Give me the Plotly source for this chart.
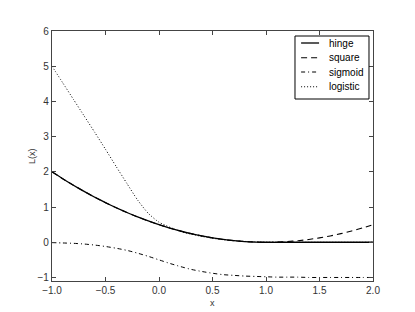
import plotly.graph_objects as go

x_vals = [-1.0, -0.9, -0.8, -0.7, -0.6, -0.5, -0.4, -0.3, -0.2, -0.1, 0.0,
          0.1, 0.2, 0.3, 0.4, 0.5, 0.6, 0.7, 0.8, 0.9, 1.0,
          1.1, 1.2, 1.3, 1.4, 1.5, 1.6, 1.7, 1.8, 1.9, 2.0]

hinge = [2.0, 1.805, 1.62, 1.445, 1.28, 1.125, 0.98, 0.845, 0.72, 0.605, 0.5,
         0.405, 0.32, 0.245, 0.18, 0.125, 0.08, 0.045, 0.02, 0.005, 0.0,
         0.0, 0.0, 0.0, 0.0, 0.0, 0.0, 0.0, 0.0, 0.0, 0.0]

square = [2.0, 1.805, 1.62, 1.445, 1.28, 1.125, 0.98, 0.845, 0.72, 0.605, 0.5,
          0.405, 0.32, 0.245, 0.18, 0.125, 0.08, 0.045, 0.02, 0.005, 0.0,
          0.005, 0.02, 0.045, 0.08, 0.125, 0.18, 0.245, 0.32, 0.405, 0.5]

sigmoid = [-0.01, -0.02, -0.03, -0.05, -0.08, -0.12, -0.17, -0.23, -0.31, -0.40, -0.5,
           -0.60, -0.69, -0.77, -0.83, -0.88, -0.92, -0.94, -0.96, -0.97, -0.98,
           -0.99, -0.99, -0.99, -1.0, -1.0, -1.0, -1.0, -1.0, -1.0, -1.0]

logistic = [5.0, 4.53, 4.06, 3.59, 3.12, 2.64, 2.15, 1.67, 1.20, 0.82, 0.57,
            0.43, 0.31, 0.23, 0.165, 0.112, 0.073, 0.044, 0.024, 0.012, 0.006,
            0.003, 0.001, 0.0, 0.0, 0.0, 0.0, 0.0, 0.0, 0.0, 0.0]

series_names = ["hinge", "square", "sigmoid", "logistic"]

x_ticks = [-1.0, -0.5, 0.0, 0.5, 1.0, 1.5, 2.0]
x_tick_labels = ["\u22121.0", "\u22120.5", "0.0", "0.5", "1.0", "1.5", "2.0"]
y_ticks = [-1, 0, 1, 2, 3, 4, 5, 6]
y_tick_labels = ["\u22121", "0", "1", "2", "3", "4", "5", "6"]

styles = [
    ("solid", 1.3),
    ("6px,4px", 1.1),
    ("4px,3px,1px,3px", 1.0),
    ("1px,2px", 1.0),
]

FONT = "Liberation Sans, Arial, sans-serif"

fig = go.Figure()
for name, ys, (dash, w) in zip(series_names, [hinge, square, sigmoid, logistic], styles):
    fig.add_trace(go.Scatter(
        x=x_vals, y=ys, name=name, mode="lines", showlegend=False,
        line=dict(color="black", width=w, dash=dash, shape="spline", smoothing=0.6),
    ))

axis_common = dict(
    showgrid=False, zeroline=False, automargin=False,
    showline=True, linecolor="#444", linewidth=1.2, mirror="ticks",
    ticks="inside", ticklen=4, tickcolor="#444", tickwidth=1,
    tickfont=dict(family=FONT, size=10, color="#333"),
)

# compact legend (box, swatches, labels) in paper coordinates
shapes = [dict(type="rect", xref="paper", yref="paper",
               x0=0.757, x1=0.9875, y0=0.728, y1=0.98,
               line=dict(color="black", width=1), fillcolor="white", layer="above")]
annotations = []
row_y = [0.952, 0.893, 0.836, 0.777]
for name, (dash, w), ry in zip(series_names, styles, row_y):
    shapes.append(dict(type="line", xref="paper", yref="paper",
                       x0=0.776, x1=0.832, y0=ry, y1=ry, layer="above",
                       line=dict(color="black", width=w, dash=dash)))
    annotations.append(dict(text=name, xref="paper", yref="paper", x=0.858, y=ry,
                            xanchor="left", yanchor="middle", showarrow=False,
                            font=dict(family=FONT, size=10, color="black")))

annotations += [
    dict(text="x", xref="paper", yref="paper", x=0.5, y=-0.088,
         xanchor="center", yanchor="middle", showarrow=False,
         font=dict(family=FONT, size=9, color="#333")),
    dict(text="L(x)", xref="paper", yref="paper", x=-0.062, y=0.5,
         xanchor="center", yanchor="middle", showarrow=False, textangle=-90,
         font=dict(family=FONT, size=9, color="#333")),
]

fig.update_layout(
    width=415, height=312,
    margin=dict(l=44, r=50, t=23, b=39),
    paper_bgcolor="white", plot_bgcolor="white",
    showlegend=False,
    xaxis=dict(range=[-1, 2], tickvals=x_ticks, ticktext=x_tick_labels, **axis_common),
    yaxis=dict(range=[-1.1, 6], tickvals=y_ticks, ticktext=y_tick_labels, **axis_common),
    shapes=shapes,
    annotations=annotations,
)

fig.write_html("out.html")
